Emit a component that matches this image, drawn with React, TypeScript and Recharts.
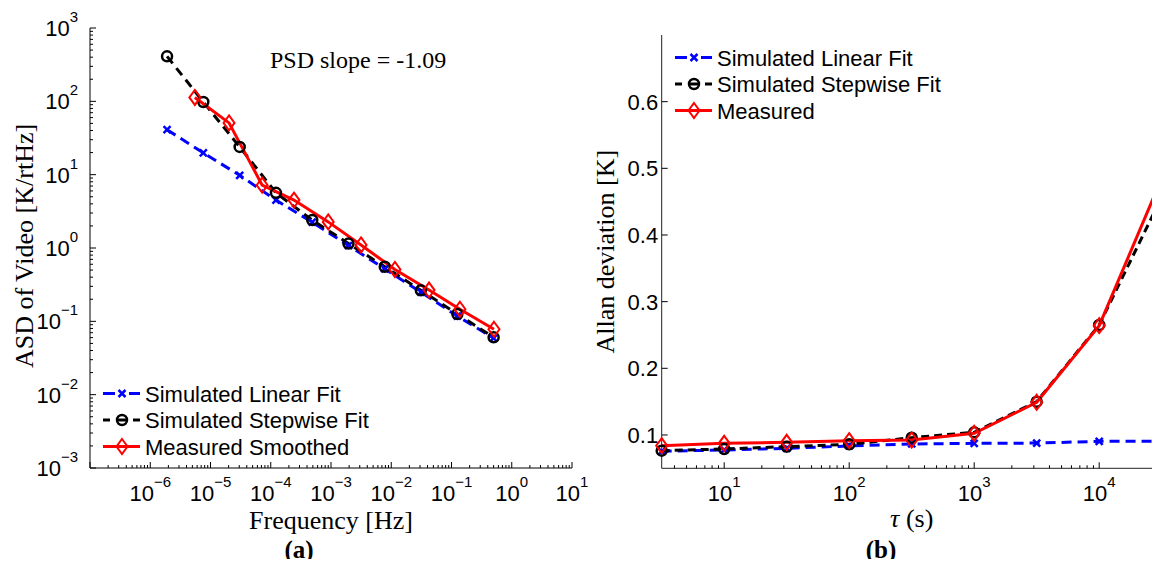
import React from "react";
import { LineChart, Line, XAxis, YAxis, Legend, Label } from "recharts";

// (a) amplitude spectral density of the video signal
const fitFreq = [1.9e-6, 7.6e-6, 3.05e-5, 1.22e-4, 4.88e-4, 1.95e-3, 7.8e-3, 0.031, 0.125, 0.5];
const linearFitAsd = [41, 19.8, 9.8, 4.5, 2.25, 1.08, 0.52, 0.25, 0.118, 0.059];
const stepwiseFitAsd = [411, 98, 23.9, 5.65, 2.4, 1.15, 0.555, 0.265, 0.126, 0.0605];
const measuredFreq = [5.5e-6, 2.03e-5, 7.2e-5, 2.43e-4, 9.0e-4, 3.15e-3, 0.0115, 0.0424, 0.138, 0.507];
const measuredAsd = [113, 50.8, 7.2, 4.5, 2.27, 1.1, 0.51, 0.267, 0.146, 0.078];

const freqTickExps = [-6, -5, -4, -3, -2, -1, 0, 1];
const asdTickExps = [-3, -2, -1, 0, 1, 2, 3];

// (b) Allan deviation
const tau = [3.1623, 10, 31.623, 100, 316.23, 1000, 3162.3, 10000, 31623];
const allanLinear = [0.0755, 0.0775, 0.08, 0.0835, 0.0865, 0.0875, 0.0878, 0.0905, 0.0905];
const allanStepwise = [0.0765, 0.079, 0.0825, 0.086, 0.096, 0.104, 0.15, 0.265, 0.457];
const allanMeasured = [0.084, 0.0875, 0.089, 0.0915, 0.0925, 0.1025, 0.149, 0.264, 0.485];

const tauTickExps = [1, 2, 3, 4];
const allanTicks = [0.1, 0.2, 0.3, 0.4, 0.5, 0.6];

const legendA = ["Simulated Linear Fit", "Simulated Stepwise Fit", "Measured Smoothed"];
const legendB = ["Simulated Linear Fit", "Simulated Stepwise Fit", "Measured"];

const SANS = "'Liberation Sans', Arial, Helvetica, sans-serif";
const SERIF = "'Liberation Serif', 'Times New Roman', serif";
const BLUE = "#0000ff";
const RED = "#ff0000";
const AXIS = "#000";

const pts = (xs: number[], ys: number[]) => xs.map((x, i) => ({ x, y: ys[i] }));

// decade ticks plus the 2..9 minor ticks in between, kept inside [lo, hi]
function logTicks(minExp: number, maxExp: number, lo: number, hi: number) {
  const out: number[] = [];
  for (let e = minExp; e <= maxExp; e++) {
    for (let m = 1; m < 10; m++) {
      const v = m * Math.pow(10, e);
      if (v >= lo * 0.999 && v <= hi * 1.001) out.push(v);
      if (e === maxExp) break;
    }
  }
  return out;
}

const isDecade = (v: number) => {
  const l = Math.log10(v);
  return Math.abs(l - Math.round(l)) < 1e-6;
};
const expText = (e: number) => (e < 0 ? "\u2212" + -e : String(e));

function PowerText({ x, y, e, anchor }: { x: number; y: number; e: number; anchor: string }) {
  return (
    <text x={x} y={y} textAnchor={anchor} fontFamily={SANS} fontSize={22} fill="#000">
      10
      <tspan dy={-14} fontSize={15}>
        {expText(e)}
      </tspan>
    </text>
  );
}

function makeTick(side: "bottom" | "top" | "left" | "right", exps: number[] | null) {
  return (props: any) => {
    const { x, y, payload } = props;
    const v = payload.value;
    const major = isDecade(v);
    const len = major ? 6 : 3;
    const e = Math.round(Math.log10(v));
    const show = exps && major && exps.includes(e);
    let line;
    if (side === "bottom") line = <line x1={x} x2={x} y1={y} y2={y - len} stroke={AXIS} />;
    else if (side === "top") line = <line x1={x} x2={x} y1={y} y2={y + len} stroke={AXIS} />;
    else if (side === "left") line = <line x1={x} x2={x + len} y1={y} y2={y} stroke={AXIS} />;
    else line = <line x1={x} x2={x - len} y1={y} y2={y} stroke={AXIS} />;
    return (
      <g>
        {line}
        {show && side === "bottom" && <PowerText x={x} y={y + 33} e={e} anchor="middle" />}
        {show && side === "left" && <PowerText x={x - 12} y={y + 8} e={e} anchor="end" />}
      </g>
    );
  };
}

function LinearYTick(props: any) {
  const { x, y, payload } = props;
  return (
    <g>
      <line x1={x} x2={x + 6} y1={y} y2={y} stroke={AXIS} />
      <text x={x - 3.5} y={y + 8} textAnchor="end" fontFamily={SANS} fontSize={22} fill="#000">
        {payload.value.toFixed(1)}
      </text>
    </g>
  );
}

function XMark({ cx, cy }: any) {
  if (cx == null || cy == null) return null;
  const s = 3.5;
  return (
    <path
      d={`M${cx - s},${cy - s}L${cx + s},${cy + s}M${cx - s},${cy + s}L${cx + s},${cy - s}`}
      stroke={BLUE}
      strokeWidth={2.5}
      fill="none"
    />
  );
}

function OMark({ cx, cy }: any) {
  if (cx == null || cy == null) return null;
  return <circle cx={cx} cy={cy} r={5} stroke="#000" strokeWidth={2.5} fill="none" />;
}

function DMark({ cx, cy }: any) {
  if (cx == null || cy == null) return null;
  const w = 5.5;
  const h = 7.5;
  return (
    <path
      d={`M${cx},${cy - h}L${cx + w},${cy}L${cx},${cy + h}L${cx - w},${cy}Z`}
      stroke={RED}
      strokeWidth={2}
      fill="none"
    />
  );
}

function LegendPanel({ labels }: { labels: string[] }) {
  const row = (i: number) => 15.5 + i * 26.5;
  return (
    <svg width={320} height={90} style={{ overflow: "visible" }}>
      <g>
        <line x1={3} x2={15} y1={row(0)} y2={row(0)} stroke={BLUE} strokeWidth={3} />
        <line x1={29} x2={40} y1={row(0)} y2={row(0)} stroke={BLUE} strokeWidth={3} />
        <XMark cx={22} cy={row(0)} />
      </g>
      <g>
        <line x1={3} x2={10} y1={row(1)} y2={row(1)} stroke="#000" strokeWidth={3} />
        <line x1={18} x2={26} y1={row(1)} y2={row(1)} stroke="#000" strokeWidth={3} />
        <line x1={33} x2={40} y1={row(1)} y2={row(1)} stroke="#000" strokeWidth={3} />
        <OMark cx={22} cy={row(1)} />
      </g>
      <g>
        <line x1={3} x2={40} y1={row(2)} y2={row(2)} stroke={RED} strokeWidth={3} />
        <DMark cx={22} cy={row(2)} />
      </g>
      {labels.map((t, i) => (
        <text key={t} x={45} y={row(i) + 8} fontFamily={SANS} fontSize={22} fill="#000">
          {t}
        </text>
      ))}
    </svg>
  );
}

function AsdChart() {
  const xTicks = logTicks(-7, 1, 1e-7, 10);
  const yTicks = logTicks(-3, 3, 1e-3, 1e3);
  return (
    <LineChart width={600} height={567} margin={{ top: 28, right: 28, bottom: 59, left: 20 }}>
      <XAxis
        dataKey="x"
        type="number"
        scale="log"
        domain={[1e-7, 10]}
        ticks={xTicks}
        interval={0}
        height={40}
        tickSize={0}
        tickMargin={0}
        tickLine={false}
        axisLine={{ stroke: AXIS }}
        tick={makeTick("bottom", freqTickExps)}
      >
        <Label
          content={(p: any) => {
            const vb = p.viewBox;
            return (
              <text x={vb.x + vb.width / 2} y={vb.y + vb.height + 21} textAnchor="middle" fontFamily={SERIF} fontSize={26} fill="#000">
                Frequency [Hz]
              </text>
            );
          }}
        />
      </XAxis>
      <XAxis
        xAxisId="top"
        orientation="top"
        type="number"
        scale="log"
        domain={[1e-7, 10]}
        allowDataOverflow
        ticks={xTicks}
        interval={0}
        height={0}
        tickSize={0}
        tickMargin={0}
        tickLine={false}
        axisLine={{ stroke: AXIS }}
        tick={makeTick("top", null)}
      />
      <YAxis
        type="number"
        scale="log"
        domain={[1e-3, 1e3]}
        ticks={yTicks}
        interval={0}
        width={70}
        tickSize={0}
        tickMargin={0}
        tickLine={false}
        axisLine={{ stroke: AXIS }}
        tick={makeTick("left", asdTickExps)}
      >
        <Label
          content={(p: any) => {
            const vb = p.viewBox;
            const cx = vb.x + 4;
            const cy = vb.y + vb.height / 2 - 2;
            return (
              <text x={cx} y={cy} dy="0.33em" transform={`rotate(-90 ${cx} ${cy})`} textAnchor="middle" fontFamily={SERIF} fontSize={26} fill="#000">
                ASD of Video [K/rtHz]
              </text>
            );
          }}
        />
      </YAxis>
      <YAxis
        yAxisId="right"
        orientation="right"
        type="number"
        scale="log"
        domain={[1e-3, 1e3]}
        allowDataOverflow
        ticks={yTicks}
        interval={0}
        width={0}
        tickSize={0}
        tickMargin={0}
        tickLine={false}
        axisLine={{ stroke: AXIS }}
        tick={makeTick("right", null)}
      />
      <Line
        data={pts(fitFreq, linearFitAsd)}
        dataKey="y"
        type="linear"
        stroke={BLUE}
        strokeWidth={3}
        strokeDasharray="10 6"
        dot={(p: any) => <XMark key={`b${p.index}`} {...p} />}
        activeDot={false}
        isAnimationActive={false}
      />
      <Line
        data={pts(fitFreq, stepwiseFitAsd)}
        dataKey="y"
        type="linear"
        stroke="#000"
        strokeWidth={3}
        strokeDasharray="9 6"
        dot={(p: any) => <OMark key={`k${p.index}`} {...p} />}
        activeDot={false}
        isAnimationActive={false}
      />
      <Line
        data={pts(measuredFreq, measuredAsd)}
        dataKey="y"
        type="linear"
        stroke={RED}
        strokeWidth={3}
        dot={(p: any) => <DMark key={`r${p.index}`} {...p} />}
        activeDot={false}
        isAnimationActive={false}
      />
      <Legend
        layout="horizontal"
        verticalAlign="middle"
        align="center"
        wrapperStyle={{ left: 100, top: 378, width: 320, height: 90 }}
        content={() => <LegendPanel labels={legendA} />}
      />
    </LineChart>
  );
}

function AllanChart() {
  const xTicks = logTicks(0, 4, 3.1623, 31623);
  return (
    <LineChart width={640} height={567} margin={{ top: 35, right: 58.3, bottom: 58.7, left: 21.7 }}>
      <XAxis
        dataKey="x"
        type="number"
        scale="log"
        domain={[3.1623, 31623]}
        ticks={xTicks}
        interval={0}
        height={40}
        tickSize={0}
        tickMargin={0}
        tickLine={false}
        axisLine={{ stroke: "#222" }}
        tick={makeTick("bottom", tauTickExps)}
      >
        <Label
          content={(p: any) => {
            const vb = p.viewBox;
            return (
              <text x={vb.x + vb.width / 2} y={vb.y + vb.height + 19} textAnchor="middle" fontFamily={SERIF} fontSize={26} fill="#000">
                <tspan fontStyle="italic">τ</tspan> (s)
              </text>
            );
          }}
        />
      </XAxis>
      <YAxis
        type="number"
        domain={[0.05, 0.7]}
        ticks={allanTicks}
        interval={0}
        width={60}
        tickSize={0}
        tickMargin={0}
        tickLine={false}
        axisLine={{ stroke: "#222" }}
        tick={LinearYTick}
      >
        <Label
          content={(p: any) => {
            const vb = p.viewBox;
            const cx = vb.x + 3.3;
            const cy = vb.y + vb.height / 2;
            return (
              <text x={cx} y={cy} dy="0.33em" transform={`rotate(-90 ${cx} ${cy})`} textAnchor="middle" fontFamily={SERIF} fontSize={26} fill="#000">
                Allan deviation [K]
              </text>
            );
          }}
        />
      </YAxis>
      <Line
        data={pts(tau, allanLinear)}
        dataKey="y"
        type="linear"
        stroke={BLUE}
        strokeWidth={3}
        strokeDasharray="10 6"
        dot={(p: any) => <XMark key={`b${p.index}`} {...p} />}
        activeDot={false}
        isAnimationActive={false}
      />
      <Line
        data={pts(tau, allanStepwise)}
        dataKey="y"
        type="linear"
        stroke="#000"
        strokeWidth={3}
        strokeDasharray="8 5"
        dot={(p: any) => <OMark key={`k${p.index}`} {...p} />}
        activeDot={false}
        isAnimationActive={false}
      />
      <Line
        data={pts(tau, allanMeasured)}
        dataKey="y"
        type="linear"
        stroke={RED}
        strokeWidth={3}
        dot={(p: any) => <DMark key={`r${p.index}`} {...p} />}
        activeDot={false}
        isAnimationActive={false}
      />
      <Legend
        layout="horizontal"
        verticalAlign="middle"
        align="center"
        wrapperStyle={{ left: 92, top: 42, width: 320, height: 90 }}
        content={() => <LegendPanel labels={legendB} />}
      />
    </LineChart>
  );
}

export default function App() {
  return (
    <div style={{ position: "relative", width: 1160, height: 567, margin: -8, overflow: "hidden", background: "#fff" }}>
      <div style={{ position: "absolute", left: 0, top: 0 }}>
        <AsdChart />
      </div>
      <div style={{ position: "absolute", left: 580, top: 0 }}>
        <AllanChart />
      </div>
      <svg width={1160} height={567} style={{ position: "absolute", left: 0, top: 0, pointerEvents: "none" }}>
        <text x={270} y={68.3} fontFamily={SERIF} fontSize={24} fill="#000">
          PSD slope = -1.09
        </text>
        <text x={299} y={558} textAnchor="middle" fontFamily={SERIF} fontSize={25} fontWeight="bold" fill="#000">
          (a)
        </text>
        <text x={881} y={558} textAnchor="middle" fontFamily={SERIF} fontSize={25} fontWeight="bold" fill="#000">
          (b)
        </text>
      </svg>
    </div>
  );
}
